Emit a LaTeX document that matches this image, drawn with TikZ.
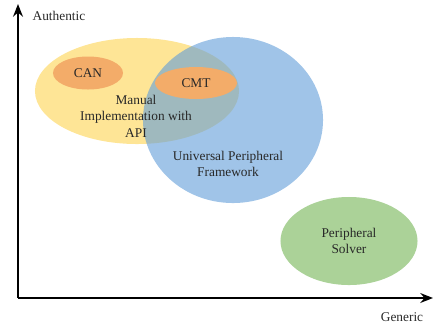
\documentclass[tikz,border=0pt]{standalone}
\usepackage{fontspec}
\setmainfont{Liberation Serif}
\usepackage{tikz}
\usetikzlibrary{
  positioning,
  arrows.meta,
  shapes.geometric
}
\definecolor{manualyellow}{RGB}{254,229,150}
\definecolor{upfblue}{RGB}{97,157,217}
\definecolor{toolorange}{RGB}{243,172,105}
\definecolor{solvergreen}{RGB}{171,210,152}
\definecolor{labeltext}{RGB}{40,40,40}
\tikzstyle{axis}=[-{Stealth[length=9pt,width=7pt]}, line width=1.3pt]
\tikzstyle{blob}=[ellipse, inner sep=0pt, text=labeltext]
\tikzstyle{txt}=[align=center, text=labeltext]

\begin{document}
\begin{tikzpicture}[x=0.025cm, y=-0.025cm, font=\fontsize{9.5}{11.8}\selectfont]
    \useasboundingbox (0,0) rectangle (433,325);

    % 座標軸
    \coordinate (origin) at (18,298);
    \coordinate (ytop) at (18,4);
    \coordinate (xend) at (433,298);
    \draw[axis] (origin) -- (ytop);
    \draw[axis] (origin) -- (xend);
    \node[txt] (authentic) at (59,16) {Authentic};
    \node[txt] (generic) at (402,317) {Generic};

    % 領域
    \node[blob, fill=manualyellow, minimum width=5.1cm, minimum height=2.65cm] (manual) at (137,91) {};
    \node[blob, fill=upfblue, fill opacity=0.6, minimum width=4.5cm, minimum height=4.15cm] (upf) at (233,120) {};
    \node[blob, fill=toolorange, minimum width=1.75cm, minimum height=0.825cm] (can) at (88,73) {CAN};
    \node[blob, fill=toolorange, minimum width=2.05cm, minimum height=0.8cm] (cmt) at (196,83) {CMT};
    \node[blob, fill=solvergreen, minimum width=3.425cm, minimum height=2.2cm, align=center] (solver) at (349,241) {Peripheral\\Solver};

    % ラベル
    \node[txt] (manuallabel) at (136,116) {Manual\\Implementation with\\API};
    \node[txt] (upflabel) at (228,164) {Universal Peripheral\\Framework};
\end{tikzpicture}
\end{document}
